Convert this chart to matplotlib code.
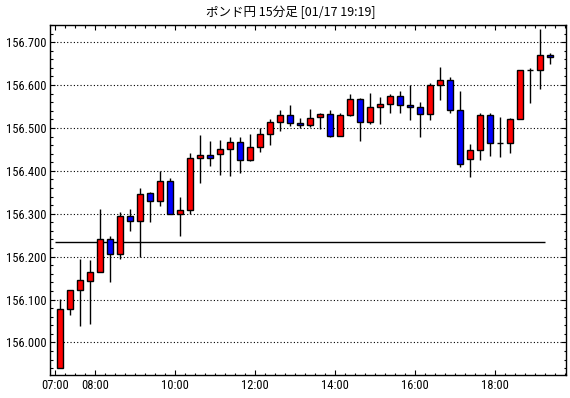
import matplotlib
matplotlib.use("Agg")
import matplotlib.pyplot as plt
from matplotlib import font_manager
from matplotlib.ticker import MultipleLocator, FixedLocator, FixedFormatter, FormatStrFormatter

# ---- data (15-minute candles starting 07:00) ----
opens = [155.940, 156.077, 156.122, 156.144, 156.163, 156.240, 156.207, 156.294, 156.284, 156.348,
         156.330, 156.377, 156.300, 156.309, 156.430, 156.437, 156.439, 156.451, 156.467, 156.426,
         156.455, 156.486, 156.514, 156.530, 156.512, 156.507, 156.526, 156.533, 156.481, 156.530,
         156.567, 156.514, 156.549, 156.556, 156.575, 156.553, 156.549, 156.533, 156.600, 156.612,
         156.542, 156.428, 156.449, 156.530, 156.465, 156.465, 156.521, 156.635, 156.635, 156.670]
highs = [156.101, 156.122, 156.194, 156.191, 156.310, 156.248, 156.305, 156.312, 156.361, 156.350,
         156.400, 156.384, 156.338, 156.442, 156.484, 156.470, 156.473, 156.478, 156.478, 156.487,
         156.500, 156.522, 156.541, 156.553, 156.523, 156.544, 156.535, 156.542, 156.535, 156.580,
         156.570, 156.582, 156.573, 156.580, 156.587, 156.600, 156.560, 156.605, 156.643, 156.619,
         156.586, 156.463, 156.536, 156.536, 156.526, 156.524, 156.635, 156.640, 156.730, 156.675]
lows = [155.940, 156.064, 156.039, 156.043, 156.163, 156.140, 156.194, 156.260, 156.200, 156.280,
        156.318, 156.300, 156.247, 156.300, 156.371, 156.412, 156.391, 156.387, 156.396, 156.423,
        156.443, 156.460, 156.493, 156.505, 156.500, 156.502, 156.498, 156.479, 156.481, 156.528,
        156.469, 156.509, 156.510, 156.535, 156.535, 156.519, 156.479, 156.519, 156.565, 156.535,
        156.409, 156.386, 156.426, 156.434, 156.432, 156.441, 156.521, 156.557, 156.591, 156.649]
closes = [156.077, 156.122, 156.145, 156.163, 156.240, 156.207, 156.294, 156.284, 156.345, 156.330,
          156.377, 156.300, 156.309, 156.430, 156.436, 156.431, 156.451, 156.467, 156.426, 156.455,
          156.487, 156.514, 156.530, 156.512, 156.507, 156.523, 156.533, 156.481, 156.530, 156.567,
          156.514, 156.549, 156.556, 156.575, 156.553, 156.549, 156.533, 156.600, 156.612, 156.542,
          156.416, 156.449, 156.530, 156.465, 156.465, 156.521, 156.635, 156.635, 156.670, 156.665]
ref_level = 156.235
y_ticks = [156.000, 156.100, 156.200, 156.300, 156.400, 156.500, 156.600, 156.700]
x_tick_labels = ["07:00", "08:00", "10:00", "12:00", "14:00", "16:00", "18:00"]
x_tick_slots = [0, 4, 12, 20, 28, 36, 44]   # in 15-minute slots from 07:00
title = "ポンド円 15分足 [01/17 19:19]"

# ---- fonts: prefer a narrow face for the numeric labels ----
entries = font_manager.fontManager.ttflist
names = {f.name for f in entries}
num_props = None
for cand in ["Liberation Sans Narrow", "Arial Narrow", "Roboto Condensed", "Open Sans Condensed"]:
    if cand in names:
        num_props = dict(fontfamily=cand, fontsize=9)
        break
if num_props is None:
    cond = [f for f in entries if f.name == "DejaVu Sans" and str(f.stretch) in ("condensed", "semi-condensed")
            and f.weight in (400, "normal") and f.style == "normal"]
    if cond:
        num_props = dict(fontfamily="DejaVu Sans", fontstretch="condensed", fontsize=8.5)
    else:
        num_props = dict(fontfamily="DejaVu Sans", fontsize=7.5)

W, H = 570, 398
fig = plt.figure(figsize=(W / 100, H / 100), dpi=100)
left, right, top, bottom = 49.5, 565.5, 25, 375
ax = fig.add_axes([left / W, 1 - bottom / H, (right - left) / W, (bottom - top) / H])

n = len(opens)
xs = [i + 0.5 for i in range(n)]

# wicks
ax.vlines(xs, lows, highs, color="black", linewidth=1.0, zorder=3)
# bodies
for x, o, c in zip(xs, opens, closes):
    col = "#ff0000" if c >= o else "#0000ff"
    ax.bar(x, abs(c - o), bottom=min(o, c), width=0.6, color=col,
           edgecolor="black", linewidth=1.0, zorder=4)

# reference line
ax.hlines(ref_level, 0, 49, color="black", linewidth=1.0, zorder=2)

ax.set_xlim(-0.58, 51.02)
ax.set_ylim(155.924, 156.740)

ax.yaxis.set_major_locator(FixedLocator(y_ticks))
ax.yaxis.set_major_formatter(FormatStrFormatter("%.3f"))
ax.yaxis.set_minor_locator(MultipleLocator(0.02))
ax.xaxis.set_major_locator(FixedLocator(x_tick_slots))
ax.xaxis.set_major_formatter(FixedFormatter(x_tick_labels))
ax.xaxis.set_minor_locator(MultipleLocator(1))

ax.grid(axis="y", which="major", color="black", linestyle=(0, (1, 2)), linewidth=0.8, zorder=1)
ax.set_axisbelow(True)

ax.tick_params(which="both", direction="in", top=True, right=True, color="black")
ax.tick_params(which="major", length=3.6, width=0.8)
ax.tick_params(which="minor", length=1.8, width=0.8)
ax.tick_params(axis="x", which="major", pad=3)
ax.tick_params(axis="y", which="major", pad=2)
for lab in ax.get_xticklabels() + ax.get_yticklabels():
    lab.set(**num_props)

for s in ax.spines.values():
    s.set_linewidth(1.0)
    s.set_color("black")

fig.text(291 / W, 1 - 12 / H, title, ha="center", va="center", fontsize=9,
         family=["Noto Sans CJK JP", "DejaVu Sans"])

fig.savefig("out.png", dpi=100)
